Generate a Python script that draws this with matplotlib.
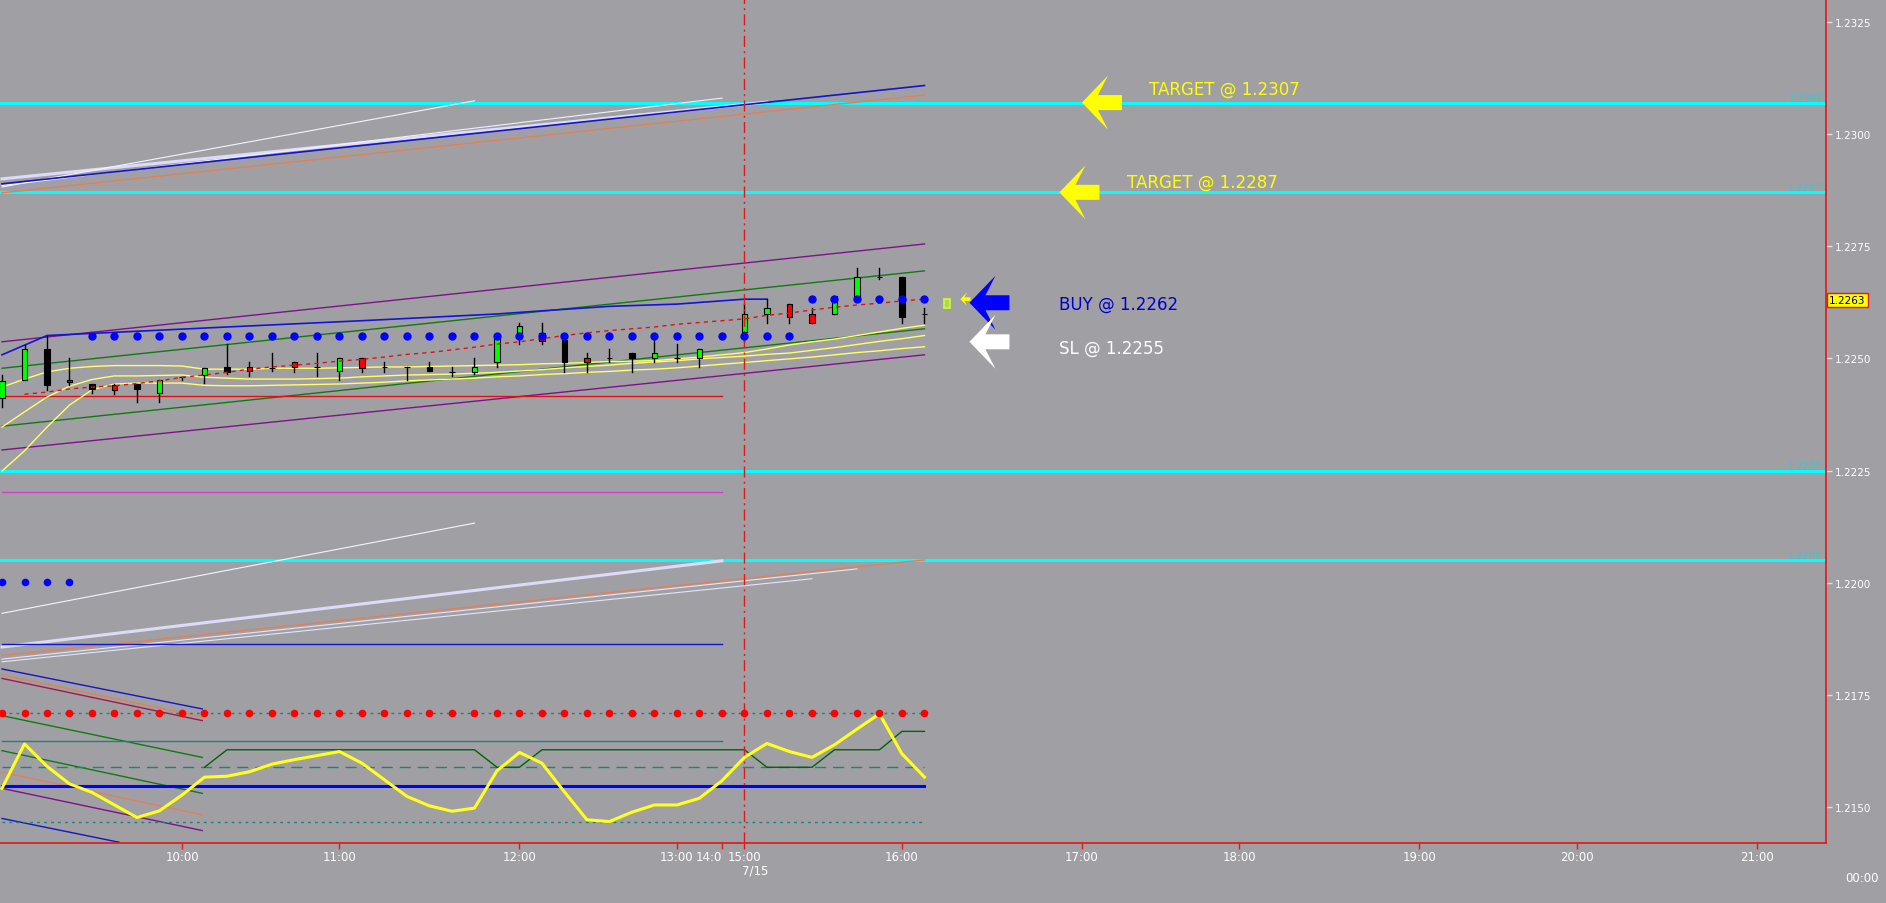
import numpy as np
import matplotlib.pyplot as plt
from matplotlib.patches import Rectangle, Polygon
from matplotlib.transforms import Affine2D, ScaledTranslation, blended_transform_factory

# ---- data (x = bar index, y = price) ----
tick_pos = [8, 15, 23, 30, 32, 33, 40, 48, 55, 63, 70, 78]
tick_labels = ['10:00', '11:00', '12:00', '13:00', '14:0', '15:00', '16:00',
               '17:00', '18:00', '19:00', '20:00', '21:00']
price_ticks = [1.2150, 1.2175, 1.2200, 1.2225, 1.2250, 1.2275, 1.2300, 1.2325]

opens = [1.22412, 1.22451, 1.22521, 1.22451, 1.22442, 1.22440, 1.22442, 1.22422, 1.22458, 1.22463,
         1.22480, 1.22480, 1.22478, 1.22491, 1.22480, 1.22471, 1.22500, 1.22480, 1.22480, 1.22480,
         1.22470, 1.22470, 1.22491, 1.22556, 1.22557, 1.22542, 1.22500, 1.22500, 1.22511, 1.22500,
         1.22500, 1.22500, 1.22551, 1.22559, 1.22600, 1.22621, 1.22600, 1.22600, 1.22632, 1.22681,
         1.22681, 1.22600]
highs = [1.22463, 1.22530, 1.22549, 1.22500, 1.22442, 1.22443, 1.22442, 1.22451, 1.22458, 1.22479,
         1.22531, 1.22491, 1.22511, 1.22491, 1.22511, 1.22500, 1.22502, 1.22491, 1.22480, 1.22491,
         1.22480, 1.22500, 1.22551, 1.22580, 1.22580, 1.22542, 1.22511, 1.22521, 1.22511, 1.22541,
         1.22532, 1.22520, 1.22551, 1.22621, 1.22632, 1.22621, 1.22612, 1.22640, 1.22701, 1.22701,
         1.22681, 1.22612]
lows = [1.22392, 1.22451, 1.22430, 1.22441, 1.22424, 1.22421, 1.22402, 1.22402, 1.22451, 1.22445,
        1.22465, 1.22461, 1.22473, 1.22470, 1.22461, 1.22452, 1.22470, 1.22470, 1.22452, 1.22471,
        1.22461, 1.22465, 1.22480, 1.22532, 1.22532, 1.22470, 1.22470, 1.22491, 1.22470, 1.22491,
        1.22491, 1.22480, 1.22551, 1.22539, 1.22580, 1.22580, 1.22580, 1.22600, 1.22632, 1.22678,
        1.22580, 1.22580]
closes = [1.22450, 1.22521, 1.22441, 1.22448, 1.22431, 1.22430, 1.22431, 1.22451, 1.22458, 1.22479,
          1.22470, 1.22471, 1.22478, 1.22480, 1.22480, 1.22500, 1.22478, 1.22480, 1.22480, 1.22471,
          1.22470, 1.22480, 1.22545, 1.22572, 1.22539, 1.22491, 1.22491, 1.22500, 1.22500, 1.22511,
          1.22500, 1.22520, 1.22551, 1.22600, 1.22612, 1.22592, 1.22580, 1.22640, 1.22681, 1.22681,
          1.22592, 1.22600]
candle_colors = ['g', 'g', 'k', 'r', 'k', 'r', 'k', 'g', 'k', 'g',
                 'k', 'r', 'k', 'r', 'k', 'g', 'r', 'k', 'k', 'k',
                 'k', 'g', 'g', 'g', 'r', 'k', 'r', 'k', 'k', 'g',
                 'k', 'g', 'k', 'g', 'g', 'r', 'r', 'g', 'g', 'r',
                 'k', 'k']

yellow_1 = [1.22436, 1.22454, 1.22470, 1.22478, 1.22482, 1.22484, 1.22484, 1.22484, 1.22483, 1.22476,
            1.22476, 1.22476, 1.22478, 1.22478, 1.22478, 1.22479, 1.22480, 1.22481, 1.22481, 1.22482,
            1.22483, 1.22484, 1.22485, 1.22486, 1.22488, 1.22489, 1.22491, 1.22493, 1.22494, 1.22495,
            1.22499, 1.22503, 1.22508, 1.22513, 1.22521, 1.22530, 1.22537, 1.22543, 1.22551, 1.22559,
            1.22567, 1.22574]
yellow_2 = [1.22347, 1.22381, 1.22414, 1.22438, 1.22453, 1.22461, 1.22461, 1.22462, 1.22463, 1.22458,
            1.22456, 1.22454, 1.22454, 1.22454, 1.22455, 1.22456, 1.22459, 1.22461, 1.22463, 1.22464,
            1.22465, 1.22467, 1.22469, 1.22472, 1.22475, 1.22479, 1.22482, 1.22485, 1.22489, 1.22492,
            1.22495, 1.22499, 1.22502, 1.22505, 1.22509, 1.22512, 1.22518, 1.22524, 1.22531, 1.22538,
            1.22544, 1.22551]
yellow_3 = [1.22249, 1.22294, 1.22347, 1.22396, 1.22430, 1.22443, 1.22445, 1.22445, 1.22445, 1.22440,
            1.22439, 1.22439, 1.22440, 1.22441, 1.22442, 1.22443, 1.22445, 1.22447, 1.22450, 1.22452,
            1.22454, 1.22456, 1.22459, 1.22461, 1.22464, 1.22466, 1.22469, 1.22471, 1.22474, 1.22476,
            1.22479, 1.22483, 1.22487, 1.22491, 1.22495, 1.22499, 1.22503, 1.22508, 1.22513, 1.22517,
            1.22522, 1.22526]
ma_red = [1.22420, 1.22425, 1.22432, 1.22436, 1.22439, 1.22444, 1.22450, 1.22458, 1.22463, 1.22469,
          1.22476, 1.22481, 1.22485, 1.22489, 1.22494, 1.22498, 1.22503, 1.22509, 1.22513, 1.22519,
          1.22525, 1.22532, 1.22537, 1.22544, 1.22551, 1.22557, 1.22562, 1.22566, 1.22570, 1.22576,
          1.22580, 1.22584, 1.22588, 1.22596, 1.22601, 1.22608, 1.22614, 1.22619, 1.22623, 1.22628,
          1.22632]  # bars 1..41

blue_step_x = [0, 2, 10, 16, 22, 24, 27, 30, 33, 34]
blue_step_p = [1.22508, 1.22551, 1.22570, 1.22584, 1.22599, 1.22606, 1.22616, 1.22621, 1.22632, 1.22632]

sar_low_p = 1.22551    # bars 4..35
sar_high_p = 1.22632   # bars 36..41
sar_left_p = 1.22002   # bars 0..3

osc = [1.21542, 1.21641, 1.21591, 1.21552, 1.21533, 1.21505, 1.21477, 1.21492, 1.21527, 1.21567,
       1.21569, 1.21579, 1.21596, 1.21606, 1.21615, 1.21624, 1.21598, 1.21561, 1.21524, 1.21503,
       1.21491, 1.21498, 1.21581, 1.21622, 1.21598, 1.21534, 1.21472, 1.21468, 1.21489, 1.21505,
       1.21505, 1.21520, 1.21559, 1.21611, 1.21642, 1.21624, 1.21611, 1.21639, 1.21674, 1.21708,
       1.21619, 1.21567]
step_x = [9, 10, 21, 22, 23, 24, 33, 34, 36, 37, 39, 40, 41]
step_p = [1.21589, 1.21628, 1.21628, 1.21589, 1.21589, 1.21628, 1.21628, 1.21589, 1.21589,
          1.21628, 1.21628, 1.21669, 1.21669]

cyan_levels = [1.2307, 1.2287, 1.2225, 1.2205]
cyan_names = ['1.2307', '1.2287', '1.2225', '1.2205']

# (x0, x1, p0, p1, colour, width)
trend_lines = [
    (0, 41, 1.22537, 1.22755, '#80108a', 1.0),   # channel purple up
    (0, 41, 1.22296, 1.22508, '#80108a', 1.0),   # channel purple down
    (0, 41, 1.22478, 1.22695, '#107a10', 1.0),   # channel green up
    (0, 41, 1.22349, 1.22566, '#107a10', 1.0),   # channel green down
    (0, 34, 1.22900, 1.23071, '#dcdcfa', 2.2),
    (0, 32, 1.22885, 1.23080, '#f0f0ff', 0.8),
    (0, 21, 1.22882, 1.23074, '#f4f4ff', 0.8),
    (0, 41, 1.22869, 1.23087, '#e0805a', 1.0),
    (0, 41, 1.22889, 1.23108, '#1414c8', 1.2),
    (0, 21, 1.21932, 1.22133, '#f4f4ff', 0.8),
    (0, 32, 1.21857, 1.22049, '#dcdcfa', 2.2),
    (0, 38, 1.21830, 1.22031, '#e4e4fc', 0.8),
    (0, 36, 1.21824, 1.22009, '#e4e4fc', 0.8),
    (0, 41, 1.21838, 1.22051, '#e0805a', 1.0),
    (0, 8.9, 1.21808, 1.21719, '#1414c8', 1.0),
    (0, 8.9, 1.21795, 1.21701, '#e0805a', 1.0),
    (0, 8.9, 1.21787, 1.21693, '#a01850', 1.0),
    (0, 8.9, 1.21704, 1.21611, '#107a10', 1.0),
    (0, 8.9, 1.21626, 1.21531, '#107a10', 1.0),
    (0, 8.9, 1.21578, 1.21483, '#e0805a', 1.0),
    (0, 8.9, 1.21542, 1.21448, '#80108a', 1.0),
    (0, 5.2, 1.21475, 1.21422, '#1414c8', 1.0),
]
# (price, x_end, colour, width, style)
flat_lines = [
    (1.22417, 32, '#e01010', 1.0, '-'),
    (1.22202, 32, '#d040d0', 1.0, '-'),
    (1.21864, 32, '#1414c8', 1.0, '-'),
    (1.21710, 41, '#208080', 1.0, (0, (2, 3))),
    (1.21647, 32, '#208080', 1.0, '-'),
    (1.21589, 41, '#208080', 1.0, (0, (8, 5))),
    (1.21548, 41, '#0000ff', 2.2, '-'),
    (1.21466, 41, '#208080', 1.0, (0, (2, 3))),
]
# (tip bar, tip price, colour, text bar, text price, text)
signals = [
    (48.0, 1.2307, '#ffff00', 51.0, 1.23100, 'TARGET @ 1.2307'),
    (47.0, 1.2287, '#ffff00', 50.0, 1.22893, 'TARGET @ 1.2287'),
    (43.0, 1.22624, '#0000ff', 47.0, 1.22621, 'BUY @ 1.2262'),
    (43.0, 1.22537, '#ffffff', 47.0, 1.22523, 'SL @ 1.2255'),
]

bg = '#a0a0a4'
narrow = ['Liberation Sans Narrow', 'DejaVu Sans']
fig = plt.figure(figsize=(18.86, 9.04), dpi=100, facecolor=bg)
ax = fig.add_axes([0, 59.7 / 904, 1826 / 1886, 844.3 / 904], facecolor=bg)
ax.set_xlim(-0.089, 81.07)
ax.set_ylim(1.214196, 1.233008)

for s in ['left', 'top']:
    ax.spines[s].set_visible(False)
for s in ['right', 'bottom']:
    ax.spines[s].set_color('#e01818')
    ax.spines[s].set_linewidth(1.2)

ax.yaxis.tick_right()
ax.set_yticks(price_ticks)
ax.set_yticklabels(['%.4f' % p for p in price_ticks], color='white', fontsize=7.5)
ax.tick_params(axis='y', length=4, width=1, color='#e0e0e0', pad=2)
ax.set_xticks(tick_pos)
ax.set_xticklabels(tick_labels, color='white', fontsize=8.5, family=narrow)
ax.tick_params(axis='x', length=4, width=1, color='#e01818', pad=1)
ax.get_xticklabels()[4].set_ha('right')

# cyan levels
for lvl, name in zip(cyan_levels, cyan_names):
    ax.axhline(lvl, color='#00ffff', lw=2.2, zorder=2)
    ax.text(0.998, lvl, name, transform=blended_transform_factory(ax.transAxes, ax.transData),
            ha='right', va='bottom', color='#38c8c8', fontsize=7)

# straight lines
for x0, x1, p0, p1, c, w in trend_lines:
    ax.plot([x0, x1], [p0, p1], color=c, lw=w, zorder=2)
for p, x1, c, w, ls in flat_lines:
    ax.plot([0, x1], [p, p], color=c, lw=w, ls=ls, zorder=2)

bars = np.arange(len(opens))
ax.plot(bars, yellow_1, color='#ffff66', lw=1.0, zorder=2)
ax.plot(bars, yellow_2, color='#ffff66', lw=1.0, zorder=2)
ax.plot(bars, yellow_3, color='#ffff66', lw=1.0, zorder=2)
ax.plot(blue_step_x, blue_step_p, color='#1414d8', lw=1.2, zorder=2)
ax.plot(bars[1:], ma_red, color='#e01010', lw=1.0, ls=(0, (3, 3)), zorder=4)

# candles
fills = {'g': '#00ff00', 'k': '#000000', 'r': '#ff0000'}
bw = 0.24
for i in bars:
    o, h, l, c = opens[i], highs[i], lows[i], closes[i]
    ax.plot([i, i], [l, h], color='black', lw=1.0, zorder=3)
    ax.add_patch(Rectangle((i - bw / 2, min(o, c)), bw, abs(c - o),
                           facecolor=fills[candle_colors[i]], edgecolor='black', lw=0.8, zorder=3))
# forming bar
ax.add_patch(Rectangle((42 - bw / 2, 1.22612), bw, 0.0002, facecolor='#a8d860',
                       edgecolor='#d0ff20', lw=1.2, zorder=3))

# SAR dots
ax.plot(np.arange(4, 36), [sar_low_p] * 32, 'o', color='#0000ff', ms=5, zorder=5)
ax.plot(np.arange(36, 42), [sar_high_p] * 6, 'o', color='#0000ff', ms=5, zorder=5)
ax.plot(np.arange(0, 4), [sar_left_p] * 4, 'o', color='#0000ff', ms=4.5, zorder=5)

# lower oscillator
ax.plot(step_x, step_p, color='#006400', lw=1.0, zorder=3)
ax.plot(bars, osc, color='#ffff20', lw=2.2, zorder=4)
ax.plot(bars, [1.21711] * len(bars), 'o', color='#ff0000', ms=4.5, zorder=5)

# session separator
ax.axvline(33, color='#e01818', lw=1.0, ls=(0, (8, 3, 1.5, 3)), zorder=3)

# signal arrows
arrow = np.array([[0, 0], [26, 27], [16, 7.5], [40, 7.5], [40, -7.5], [16, -7.5], [26, -27]])
for tx, tp, col, lx, lp, txt in signals:
    tr = Affine2D() + ScaledTranslation(tx, tp, ax.transData)
    ax.add_patch(Polygon(arrow, closed=True, facecolor=col, edgecolor='none',
                         transform=tr, zorder=6, clip_on=False))
    ax.text(lx, lp, txt, color=col if col != '#0000ff' else '#0000cc',
            fontsize=12, ha='left', va='center', zorder=6)
tr = Affine2D().scale(0.25) + ScaledTranslation(42.6, 1.22632, ax.transData)
ax.add_patch(Polygon(arrow, closed=True, facecolor='#ffff00', edgecolor='none',
                     transform=tr, zorder=6))

# current price box
ax.text(1.0016, 1.2263, '1.2263', transform=blended_transform_factory(ax.transAxes, ax.transData),
        ha='left', va='center', color='black', fontsize=7.5, clip_on=False,
        bbox=dict(boxstyle='square,pad=0.2', fc='#ffff00', ec='#e01818', lw=1))

# date labels
ax.annotate('7/15', xy=(33, 0), xycoords=('data', 'axes fraction'), xytext=(11, -27),
            textcoords='offset pixels', ha='center', va='center', color='white', fontsize=8.5,
            family=narrow)
fig.text(1862 / 1886, 1 - 879 / 904, '00:00', ha='center', va='center', color='white',
         fontsize=8.5, family=narrow)

fig.savefig('out.png', dpi=100, facecolor=bg)
